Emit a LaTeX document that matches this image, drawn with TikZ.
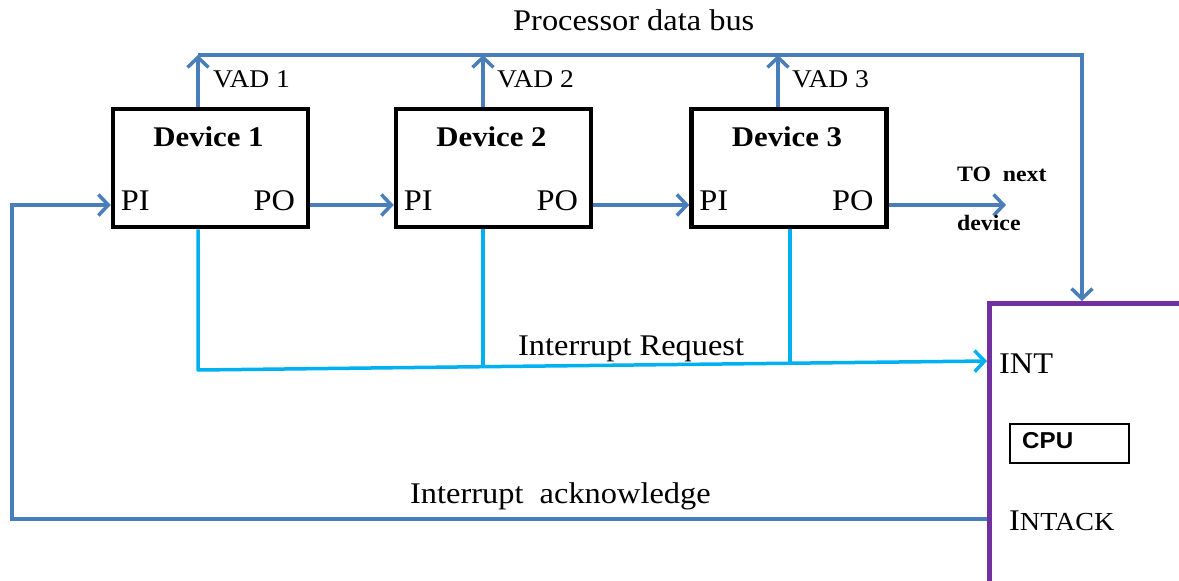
\documentclass[tikz,border=0pt]{standalone}
\usepackage{fontspec}
\setmainfont{Liberation Serif}[FakeStretch=1.08]
\newfontfamily\cpufont{Liberation Sans}[FakeStretch=1.05]
\usetikzlibrary{arrows.meta,calc}

\definecolor{busblue}{HTML}{4A7EBB}
\definecolor{reqblue}{HTML}{00B0F0}
\definecolor{cpupurple}{HTML}{7030A0}

\newcommand{\fs}[1]{\fontsize{#1}{#1}\selectfont}

\tikzset{
  tip/.style={-{Straight Barb[length=10pt,width=21pt,line width=3.5pt]}},
  bus/.style={draw=busblue,line width=3.5pt},
  req/.style={draw=reqblue,line width=3.5pt},
  device/.style={draw=black,line width=4.5pt,fill=white,minimum width=195pt,
    minimum height=118pt,inner sep=0pt},
  cpuframe/.style={draw=cpupurple,line width=4.5pt,minimum width=260pt,
    minimum height=320pt,inner sep=0pt,anchor=north west},
  lbl/.style={inner sep=0pt,text=black},
}

\begin{document}
\begin{tikzpicture}[x=1pt,y=-1pt]
\useasboundingbox (0,0) rectangle (1179,581);
\clip (0,0) rectangle (1179,581);

% devices and processor
\node[device] (dev1) at (210.5,168) {};
\node[device] (dev2) at (493.5,168) {};
\node[device] (dev3) at (789,168) {};
\node[cpuframe] (cpu) at (987,301) {};
\node[draw=black,line width=2pt,minimum width=119pt,minimum height=39pt,
      inner sep=0pt,anchor=north west] (cpuin) at (1009,423) {};

% bus and junction points
\coordinate (vad1) at (198,55);
\coordinate (vad2) at (483,55);
\coordinate (vad3) at (778,55);
\coordinate (busR) at (1082,55);
\coordinate (req1) at (198,370);
\coordinate (req2) at (483,366.7);
\coordinate (req3) at (790,363.2);
\coordinate (reqR) at (987,361);
\coordinate (next) at (1006,205);
\coordinate (ackL) at (12,519);
\coordinate (ackU) at (12,205);

% processor data bus
\draw[bus,tip] (vad1) -- (busR) -- (busR |- cpu.north);
\draw[bus,tip] (vad1 |- dev1.north) -- (vad1);
\draw[bus,tip] (vad2 |- dev2.north) -- (vad2);
\draw[bus,tip] (vad3 |- dev3.north) -- (vad3);

% daisy chain PO -> PI
\draw[bus,tip] ($(dev1.east)+(0,37)$) -- ($(dev2.west)+(0,37)$);
\draw[bus,tip] ($(dev2.east)+(0,37)$) -- ($(dev3.west)+(0,37)$);
\draw[bus,tip] ($(dev3.east)+(0,37)$) -- (next);

% interrupt request line
\draw[req,line join=round] (req1 |- dev1.south) -- (req1) -- (req2);
\draw[req,tip] (req2) -- (reqR);
\draw[req] (req2 |- dev2.south) -- (req2);
\draw[req] (req3 |- dev3.south) -- (req3);

% interrupt acknowledge line
\draw[bus,tip,line join=miter] (cpu.west |- ackL) -- (ackL) -- (ackU) -- ($(dev1.west)+(0,37)$);

% text
\node[lbl,anchor=base west,font=\fs{30}] (title) at (513,30) {Processor data bus};
\node[lbl,anchor=base west,font=\fs{25.5}] (v1) at (213,87) {VAD 1};
\node[lbl,anchor=base west,font=\fs{25.5}] (v2) at (497,87) {VAD 2};
\node[lbl,anchor=base west,font=\fs{25.5}] (v3) at (792,87) {VAD 3};

\node[lbl,anchor=base,font=\fs{28.5}\bfseries] (d1) at ($(dev1.center)+(-2,-22)$) {Device 1};
\node[lbl,anchor=base,font=\fs{28.5}\bfseries] (d2) at ($(dev2.center)+(-2,-22)$) {Device 2};
\node[lbl,anchor=base,font=\fs{28.5}\bfseries] (d3) at ($(dev3.center)+(-2,-22)$) {Device 3};

\node[lbl,anchor=base west,font=\fs{30}] (pi1) at ($(dev1.west)+(10,42)$) {PI};
\node[lbl,anchor=base east,font=\fs{30}] (po1) at ($(dev1.east)+(-15,42)$) {PO};
\node[lbl,anchor=base west,font=\fs{30}] (pi2) at ($(dev2.west)+(10,42)$) {PI};
\node[lbl,anchor=base east,font=\fs{30}] (po2) at ($(dev2.east)+(-15,42)$) {PO};
\node[lbl,anchor=base west,font=\fs{30}] (pi3) at ($(dev3.west)+(10,42)$) {PI};
\node[lbl,anchor=base east,font=\fs{30}] (po3) at ($(dev3.east)+(-15,42)$) {PO};

\node[lbl,anchor=base west,font=\fs{22}\bfseries] (tonext) at (957,181) {TO\ \ next};
\node[lbl,anchor=base west,font=\fs{22}\bfseries] (tdev) at (957,230) {device};

\node[lbl,anchor=base west,font=\fs{30}] (irq) at (518,355) {Interrupt Request};
\node[lbl,anchor=base west,font=\fs{30}] (iack) at (410,503) {Interrupt\ \ acknowledge};

\node[lbl,anchor=base west,font=\fs{30}] (int) at (999,373) {INT};
\node[lbl,anchor=base west,font=\fs{23}\cpufont\bfseries] (cpulbl) at (1022,448) {CPU};
\node[lbl,anchor=base west] (intack) at (1009,530) {{\fs{30}I}{\fs{26}NTACK}};
\end{tikzpicture}
\end{document}
